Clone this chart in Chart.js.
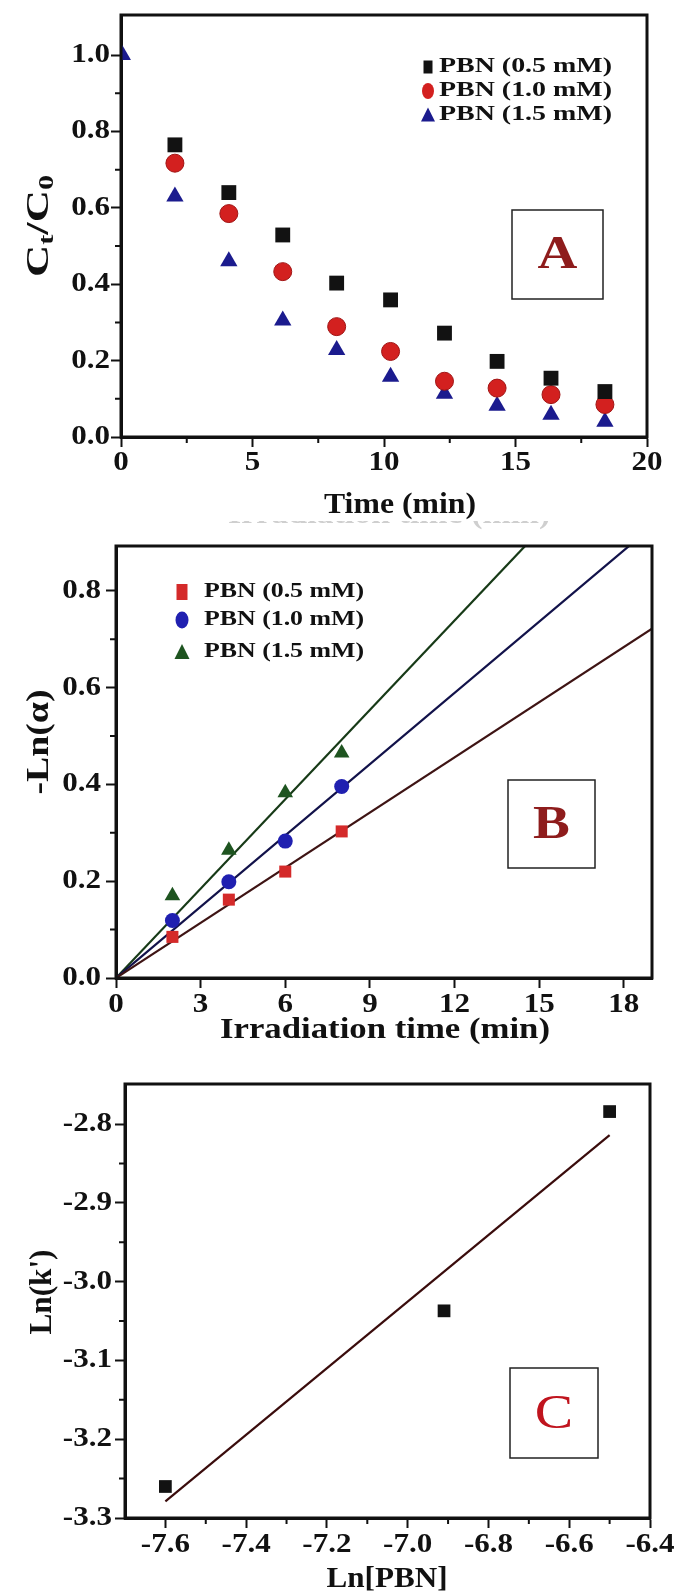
<!DOCTYPE html>
<html>
<head>
<meta charset="utf-8">
<script src="https://cdn.jsdelivr.net/npm/chart.js@4.4.0/dist/chart.umd.min.js"></script>
<style>
  html, body { margin: 0; padding: 0; background: #fff; }
  body { width: 674px; height: 1593px; position: relative; overflow: hidden; }
  canvas { position: absolute; left: 0; }
  .ghost { position: absolute; left: 228px; top: 521px; width: 340px; height: 13px; overflow: hidden; }
  .ghost span { position: absolute; left: 0; top: -24px; white-space: nowrap;
    font: bold 29px "Liberation Serif", serif; color: #cfcfcf;
    transform: scaleX(1.17); transform-origin: left top; }
</style>
</head>
<body>
<canvas id="chartA" width="674" height="530" style="top:0"></canvas>
<div class="ghost"><span>Irradiation time (min)</span></div>
<canvas id="chartB" width="674" height="540" style="top:520px"></canvas>
<canvas id="chartC" width="674" height="553" style="top:1040px"></canvas>
<script>
// ---- Panel A: Ct/C0 vs time ----
const timeA = [2.05, 4.1, 6.15, 8.2, 10.25, 12.3, 14.3, 16.35, 18.4];
const timeA15 = [0.05, 2.05, 4.1, 6.15, 8.2, 10.25, 12.3, 14.3, 16.35, 18.4];
const ctA05 = [0.765, 0.64, 0.529, 0.403, 0.359, 0.272, 0.198, 0.154, 0.119];
const ctA10 = [0.717, 0.585, 0.433, 0.289, 0.224, 0.146, 0.128, 0.111, 0.085];
const ctA15 = [1.0, 0.63, 0.46, 0.305, 0.228, 0.158, 0.113, 0.082, 0.058, 0.04];
const ticksAx = [0, 5, 10, 15, 20];
const minorAx = [2.5, 7.5, 12.5, 17.5];
const ticksAy = [0, 0.2, 0.4, 0.6, 0.8, 1.0];
const minorAy = [0.1, 0.3, 0.5, 0.7, 0.9];

// ---- Panel B: -Ln(alpha) vs irradiation time ----
const timeB = [2, 4, 6, 8];
const lnB05 = [0.085, 0.162, 0.220, 0.303];
const lnB10 = [0.119, 0.199, 0.283, 0.396];
const lnB15 = [0.170, 0.264, 0.383, 0.465];
const fitBx = [0, 19];
const fitB05 = [0, 0.722];
const fitB10 = [0, 0.933];
const fitB15 = [0, 1.17];
const ticksBx = [0, 3, 6, 9, 12, 15, 18];
const ticksBy = [0, 0.2, 0.4, 0.6, 0.8];
const minorBy = [0.1, 0.3, 0.5, 0.7];

// ---- Panel C: Ln(k') vs Ln[PBN] ----
const lnPBN = [-7.60, -6.91, -6.50];
const lnK = [-3.26, -3.037, -2.784];
const fitCx = [-7.6, -6.5];
const fitCy = [-3.279, -2.814];
const ticksCx = [-7.6, -7.4, -7.2, -7.0, -6.8, -6.6, -6.4];
const minorCx = [-7.5, -7.3, -7.1, -6.9, -6.7, -6.5];
const ticksCy = [-3.3, -3.2, -3.1, -3.0, -2.9, -2.8];
const minorCy = [-3.25, -3.15, -3.05, -2.95, -2.85];

const legendLabels = ['PBN (0.5 mM)', 'PBN (1.0 mM)', 'PBN (1.5 mM)'];

const serif = '"Liberation Serif", "Times New Roman", serif';

function pts(xs, ys) { return xs.map((x, i) => ({x: x, y: ys[i]})); }

// text drawn with a horizontal stretch, like the wide font of the figure
function drawText(ctx, parts, x, y, o) {
  ctx.save();
  let total = 0;
  parts.forEach(p => {
    ctx.font = (o.weight || 'bold') + ' ' + p.size + 'px ' + serif;
    p.w = ctx.measureText(p.t).width;
    total += p.w;
  });
  const sx = o.width ? o.width / total : (o.sx || 1);
  ctx.translate(x, y);
  if (o.rotate) ctx.rotate(o.rotate);
  ctx.scale(sx, 1);
  let cx = o.align === 'right' ? -total : (o.align === 'left' ? 0 : -total / 2);
  ctx.fillStyle = o.color || '#111';
  ctx.textBaseline = 'middle';
  ctx.textAlign = 'left';
  parts.forEach(p => {
    ctx.font = (o.weight || 'bold') + ' ' + p.size + 'px ' + serif;
    ctx.fillText(p.t, cx, p.dy || 0);
    cx += p.w;
  });
  ctx.restore();
}

function legendSymbol(ctx, s, x, y) {
  ctx.fillStyle = s.color;
  ctx.beginPath();
  if (s.style === 'rect') {
    ctx.rect(x - s.w / 2, y - s.h / 2, s.w, s.h);
  } else if (s.style === 'circle') {
    ctx.ellipse(x, y, s.w / 2, s.h / 2, 0, 0, 2 * Math.PI);
  } else {
    ctx.moveTo(x, y - s.h / 2 - 1);
    ctx.lineTo(x + s.w / 2, y + s.h / 2);
    ctx.lineTo(x - s.w / 2, y + s.h / 2);
    ctx.closePath();
  }
  ctx.fill();
}

function makePanel(cfg) {
  return {
    id: 'panel',
    afterDraw(chart) {
      const ctx = chart.ctx, a = chart.chartArea;
      const xs = chart.scales.x, ys = chart.scales.y;
      ctx.save();
      ctx.strokeStyle = '#111';
      ctx.lineWidth = 3;
      ctx.strokeRect(a.left, a.top, a.right - a.left, a.bottom - a.top);
      ctx.lineWidth = 2;
      ctx.beginPath();
      cfg.minorX.forEach(v => {
        const px = xs.getPixelForValue(v);
        ctx.moveTo(px, a.bottom); ctx.lineTo(px, a.bottom + 6);
      });
      cfg.minorY.forEach(v => {
        const py = ys.getPixelForValue(v);
        ctx.moveTo(a.left, py); ctx.lineTo(a.left - 6, py);
      });
      ctx.stroke();
      ctx.restore();

      xs.ticks.forEach(t => {
        drawText(ctx, [{t: cfg.fmtX(t.value), size: 27}], xs.getPixelForValue(t.value), cfg.xLabelY, {sx: 1.15});
      });
      ys.ticks.forEach(t => {
        drawText(ctx, [{t: cfg.fmtY(t.value), size: 27}], cfg.yLabelRight, ys.getPixelForValue(t.value), {sx: 1.15, align: 'right'});
      });

      drawText(ctx, [{t: cfg.xTitle.text, size: 29}], cfg.xTitle.x, cfg.xTitle.y, {width: cfg.xTitle.width});
      drawText(ctx, cfg.yTitle.parts, cfg.yTitle.x, cfg.yTitle.y, {width: cfg.yTitle.width, rotate: -Math.PI / 2});

      if (cfg.legend) {
        const L = cfg.legend;
        L.symbols.forEach((s, i) => {
          legendSymbol(ctx, s, L.symX, L.rows[i]);
          drawText(ctx, [{t: legendLabels[i], size: L.size}], L.textX, L.rows[i], {width: L.width, align: 'left'});
        });
      }

      const b = cfg.box;
      ctx.save();
      ctx.strokeStyle = '#222';
      ctx.lineWidth = 1.5;
      ctx.strokeRect(b.x1, b.y1, b.x2 - b.x1, b.y2 - b.y1);
      ctx.restore();
      drawText(ctx, [{t: b.letter, size: b.size}], (b.x1 + b.x2) / 2, (b.y1 + b.y2) / 2 + 2,
        {sx: 1.2, color: b.color, weight: b.weight});
    }
  };
}

function axis(min, max, ticks, fit) {
  return {
    type: 'linear',
    min: min,
    max: max,
    afterBuildTicks: ax => { ax.ticks = ticks.map(v => ({value: v})); },
    afterFit: fit,
    ticks: {display: false},
    grid: {drawOnChartArea: false, drawTicks: true, tickLength: 10, tickWidth: 2, tickColor: '#111'},
    border: {display: true, width: 3, color: '#111'}
  };
}

function baseOptions(pad, xAxis, yAxis) {
  return {
    responsive: false,
    animation: false,
    devicePixelRatio: 1,
    layout: {padding: pad},
    plugins: {legend: {display: false}, tooltip: {enabled: false}},
    scales: {x: xAxis, y: yAxis}
  };
}

const fmt1 = v => v.toFixed(1);
const fmt0 = v => String(Math.round(v));

// Panel A
new Chart('chartA', {
  type: 'scatter',
  data: {
    datasets: [
      {data: pts(timeA, ctA05), pointStyle: 'rect', pointRadius: 10.5, backgroundColor: '#121212', borderWidth: 0},
      {data: pts(timeA, ctA10), pointStyle: 'circle', pointRadius: 9, backgroundColor: '#d3201f', borderColor: '#a01414', borderWidth: 1},
      {data: pts(timeA15, ctA15), pointStyle: 'triangle', pointRadius: 10, backgroundColor: '#1b1b8e', borderWidth: 0, clip: 0}
    ]
  },
  options: baseOptions({top: 15, right: 27, left: 0, bottom: 0},
    axis(0, 20, ticksAx, s => { s.height = 530 - 437; }),
    axis(0, 1.105, ticksAy, s => { s.width = 121; })),
  plugins: [makePanel({
    minorX: minorAx, minorY: minorAy, fmtX: fmt0, fmtY: fmt1,
    xLabelY: 463, yLabelRight: 110,
    xTitle: {text: 'Time (min)', x: 400, y: 506, width: 152},
    yTitle: {parts: [{t: 'C', size: 31}, {t: 't', size: 21, dy: 8}, {t: '/C', size: 31}, {t: '0', size: 21, dy: 8}], x: 40, y: 226, width: 102},
    legend: {
      symX: 428, textX: 439, width: 173, size: 21, rows: [67, 91, 115],
      symbols: [
        {style: 'rect', color: '#121212', w: 9, h: 13},
        {style: 'circle', color: '#d3201f', w: 12, h: 16},
        {style: 'triangle', color: '#1b1b8e', w: 14, h: 13}
      ]
    },
    box: {x1: 512, y1: 210, x2: 603, y2: 299, letter: 'A', size: 46, color: '#8e1c1c', weight: 'bold'}
  })]
});

// Panel B
new Chart('chartB', {
  type: 'scatter',
  data: {
    datasets: [
      {data: pts(fitBx, fitB05), showLine: true, pointRadius: 0, borderColor: '#3e1414', borderWidth: 2.2, order: 2},
      {data: pts(fitBx, fitB10), showLine: true, pointRadius: 0, borderColor: '#12124a', borderWidth: 2.2, order: 2},
      {data: pts(fitBx, fitB15), showLine: true, pointRadius: 0, borderColor: '#173a17', borderWidth: 2.2, order: 2},
      {data: pts(timeB, lnB05), pointStyle: 'rect', pointRadius: 8.5, backgroundColor: '#d42a2a', borderWidth: 0, order: 1},
      {data: pts(timeB, lnB10), pointStyle: 'circle', pointRadius: 7.5, backgroundColor: '#2020b0', borderWidth: 0, order: 1},
      {data: pts(timeB, lnB15), pointStyle: 'triangle', pointRadius: 9, backgroundColor: '#1e5420', borderWidth: 0, order: 1}
    ]
  },
  options: baseOptions({top: 26, right: 22, left: 0, bottom: 0},
    axis(0, 19, ticksBx, s => { s.height = 540 - 458; }),
    axis(0, 0.893, ticksBy, s => { s.width = 116; })),
  plugins: [makePanel({
    minorX: [], minorY: minorBy, fmtX: fmt0, fmtY: fmt1,
    xLabelY: 485, yLabelRight: 101,
    xTitle: {text: 'Irradiation time (min)', x: 385, y: 511, width: 330},
    yTitle: {parts: [{t: '-Ln(\u03b1)', size: 31}], x: 40, y: 222, width: 105},
    legend: {
      symX: 182, textX: 204, width: 160, size: 21, rows: [72, 100, 132],
      symbols: [
        {style: 'rect', color: '#d42a2a', w: 11, h: 16},
        {style: 'circle', color: '#2020b0', w: 13, h: 17},
        {style: 'triangle', color: '#1e5420', w: 15, h: 14}
      ]
    },
    box: {x1: 508, y1: 260, x2: 595, y2: 348, letter: 'B', size: 46, color: '#8e1c1c', weight: 'bold'}
  })]
});

// Panel C
new Chart('chartC', {
  type: 'scatter',
  data: {
    datasets: [
      {data: pts(fitCx, fitCy), showLine: true, pointRadius: 0, borderColor: '#3a0c0c', borderWidth: 2.2, order: 2},
      {data: pts(lnPBN, lnK), pointStyle: 'rect', pointRadius: 9, backgroundColor: '#121212', borderWidth: 0, order: 1}
    ]
  },
  options: baseOptions({top: 44, right: 24, left: 0, bottom: 0},
    axis(-7.7, -6.4, ticksCx, s => { s.height = 553 - 478; }),
    axis(-3.3, -2.749, ticksCy, s => { s.width = 125; })),
  plugins: [makePanel({
    minorX: minorCx, minorY: minorCy, fmtX: fmt1, fmtY: fmt1,
    xLabelY: 505, yLabelRight: 112,
    xTitle: {text: 'Ln[PBN]', x: 387, y: 540, width: 121},
    yTitle: {parts: [{t: "Ln(k')", size: 31}], x: 43, y: 252, width: 85},
    box: {x1: 510, y1: 328, x2: 598, y2: 418, letter: 'C', size: 48, color: '#c0141e', weight: 'normal'}
  })]
});
</script>
</body>
</html>
